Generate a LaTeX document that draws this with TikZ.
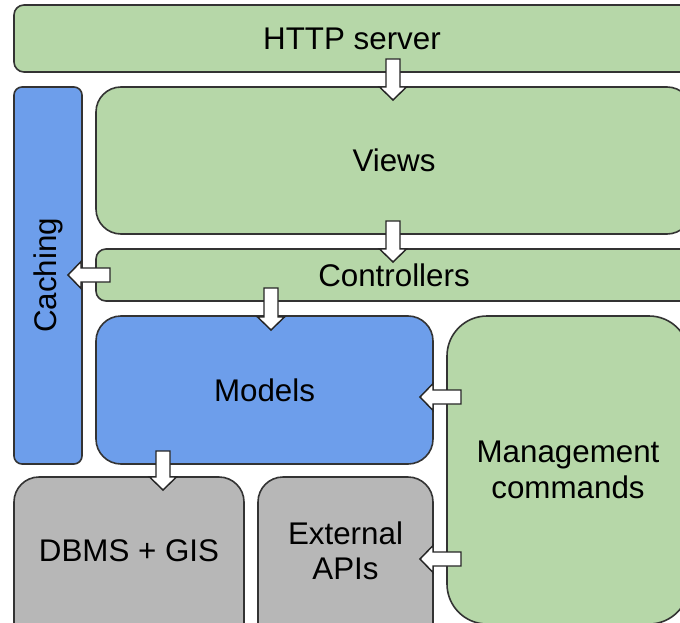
\documentclass[tikz,border=0pt]{standalone}
\usepackage{fontspec}
\setmainfont{Liberation Sans}
\usetikzlibrary{calc}

\definecolor{layergreen}{HTML}{B6D7A8}
\definecolor{layerblue}{HTML}{6D9EEB}
\definecolor{layergray}{HTML}{B7B7B7}
\definecolor{edgegray}{HTML}{333333}

\tikzset{
  layer/.style={draw=edgegray, line width=1.2pt, inner sep=0pt, outer sep=0pt,
    align=center, font=\fontsize{23.5}{26.5}\selectfont},
  lbl/.style={inner sep=0pt, align=center, font=\fontsize{23.5}{26.5}\selectfont},
  % white block arrow with a triangular head, drawn between two coordinates
  blockarrow/.style={draw=black!85, line width=1.1pt, fill=white, line join=miter,
    to path={
      ($(\tikztotarget)!9.75pt!(\tikztostart)$) coordinate (ba-h)
      ($(\tikztostart)!5.25pt!90:(\tikztotarget)$)
      -- ($(ba-h)!5.25pt!90:(\tikztotarget)$)
      -- ($(ba-h)!10.1pt!90:(\tikztotarget)$)
      -- (\tikztotarget)
      -- ($(ba-h)!10.1pt!-90:(\tikztotarget)$)
      -- ($(ba-h)!5.25pt!-90:(\tikztotarget)$)
      -- ($(\tikztostart)!5.25pt!-90:(\tikztotarget)$)
      -- cycle
    }}
}

\begin{document}
\begin{tikzpicture}[x=0.75pt, y=-0.75pt]
  \useasboundingbox (0,0) rectangle (680,623);
  \fill[white] (0,0) rectangle (680,623);
  \clip (0,0) rectangle (680,623);

  % layers
  \node[layer, fill=layergreen, rounded corners=7.5pt,
        minimum width=507pt, minimum height=50.25pt] (http) at (352,38.5) {HTTP server};
  \node[layer, fill=layergreen, rounded corners=18.75pt,
        minimum width=447pt, minimum height=110.25pt] (views) at (394,160.5) {Views};
  \node[layer, fill=layergreen, rounded corners=7.5pt,
        minimum width=447pt, minimum height=39pt] (controllers) at (394,275) {Controllers};
  \node[layer, fill=layerblue, rounded corners=6pt,
        minimum width=51pt, minimum height=282.75pt] (caching) at (48,275.5) {};
  \node[lbl, rotate=90] (caching-text) at (caching.center) {Caching};
  \node[layer, fill=layerblue, rounded corners=18.75pt,
        minimum width=252.75pt, minimum height=111pt] (models) at (264.5,390) {Models};
  \node[layer, fill=layergreen, rounded corners=30pt,
        minimum width=181.5pt, minimum height=231pt] (mgmt) at (568,470) {Management\\commands};
  \node[layer, fill=layergray, rounded corners=18.75pt,
        minimum width=172.5pt, minimum height=137.25pt] (dbms) at (129,568.5) {};
  \node[lbl] (dbms-text) at (129,551) {DBMS + GIS};
  \node[layer, fill=layergray, rounded corners=18.75pt,
        minimum width=131.25pt, minimum height=137.25pt] (ext) at (345.5,568.5) {};
  \node[lbl] (ext-text) at (345.5,551) {External\\APIs};

  % arrow end points
  \coordinate (a1s) at ($(http.south -| views.north)+(-1,-13)$);
  \coordinate (a1t) at ($(views.north)+(-1,13)$);
  \coordinate (a2s) at ($(views.south)+(-1,-13)$);
  \coordinate (a2t) at ($(controllers.north)+(-1,13)$);
  \coordinate (a3s) at ($(controllers.west)+(14,0)$);
  \coordinate (a3t) at ($(controllers.west -| caching.east)+(-14,0)$);
  \coordinate (a4s) at ($(controllers.south -| models.north)+(6.5,-13)$);
  \coordinate (a4t) at ($(models.north)+(6.5,14)$);
  \coordinate (a5s) at ($(models.south -| dbms.north)+(34,-13)$);
  \coordinate (a5t) at ($(dbms.north)+(34,13)$);
  \coordinate (a6s) at ($(mgmt.west |- models.east)+(14,7)$);
  \coordinate (a6t) at ($(models.east)+(-13,7)$);
  \coordinate (a7s) at ($(mgmt.west |- ext-text.center)+(14,8)$);
  \coordinate (a7t) at ($(ext.east |- ext-text.center)+(-13,8)$);

  % arrows
  \draw[blockarrow] (a1s) to (a1t);
  \draw[blockarrow] (a2s) to (a2t);
  \draw[blockarrow] (a3s) to (a3t);
  \draw[blockarrow] (a4s) to (a4t);
  \draw[blockarrow] (a5s) to (a5t);
  \draw[blockarrow] (a6s) to (a6t);
  \draw[blockarrow] (a7s) to (a7t);
\end{tikzpicture}
\end{document}
